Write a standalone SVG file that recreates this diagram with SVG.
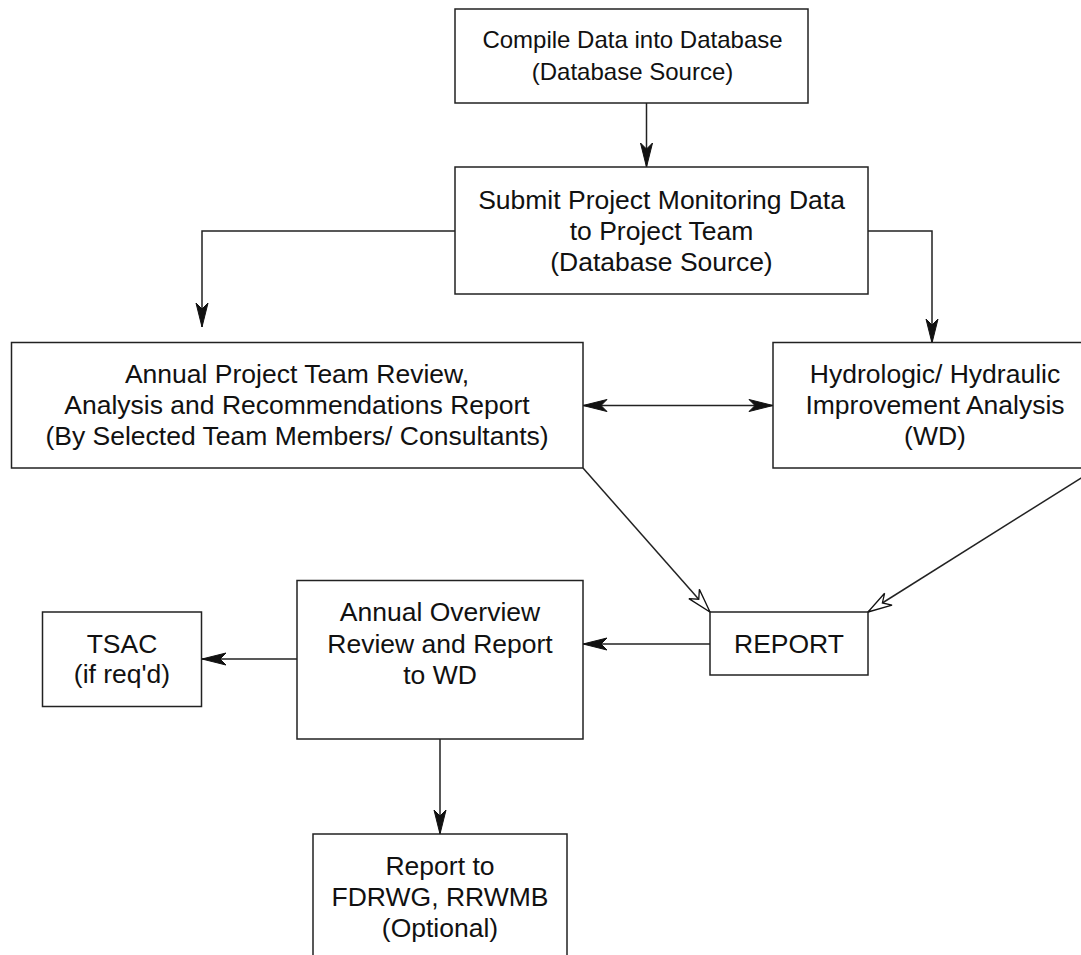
<svg xmlns="http://www.w3.org/2000/svg" width="1081" height="955" viewBox="0 0 1081 955">
<defs>
<style>
.box{fill:#fff;stroke:#222;stroke-width:1.5}
.lbl{font-family:"Liberation Sans",Arial,sans-serif;font-size:26.5px;fill:#111;text-anchor:middle}
.sm{font-size:24px}
.con{fill:none;stroke:#222;stroke-width:1.5}
</style>
<marker id="fa" viewBox="-26 -7 28 14" refX="0" refY="0" markerWidth="28" markerHeight="14" markerUnits="userSpaceOnUse" orient="auto-start-reverse">
<path d="M0,0 L-24,-6 L-18,0 L-24,6 Z" fill="#111" stroke="#111" stroke-width="1"/>
</marker>
<marker id="oa" viewBox="-26 -8 28 16" refX="0" refY="0" markerWidth="28" markerHeight="16" markerUnits="userSpaceOnUse" orient="auto">
<path d="M0,0 L-24,-7 L-17,0 L-24,7 Z" fill="#fff" stroke="#111" stroke-width="1.3"/>
</marker>
</defs>
<rect width="1081" height="955" fill="#fff"/>
<g id="connectors">
<path class="con" d="M646.5,103 V167" marker-end="url(#fa)"/>
<path class="con" d="M455,231 H202 V327" marker-end="url(#fa)"/>
<path class="con" d="M868,231 H932 V343" marker-end="url(#fa)"/>
<path class="con" d="M583,405.5 H773" marker-start="url(#fa)" marker-end="url(#fa)"/>
<path class="con" d="M583,468 L710,612" marker-end="url(#oa)"/>
<path class="con" d="M1097,468 L868,612" marker-end="url(#oa)"/>
<path class="con" d="M710,644 H583" marker-end="url(#fa)"/>
<path class="con" d="M297,659 H202" marker-end="url(#fa)"/>
<path class="con" d="M440,739 V834" marker-end="url(#fa)"/>
</g>
<g id="compile">
<rect class="box" x="455" y="9" width="353" height="94"/>
<text class="lbl sm" x="632.5" y="48">Compile Data into Database</text>
<text class="lbl sm" x="632.5" y="80">(Database Source)</text>
</g>
<g id="submit">
<rect class="box" x="455" y="167" width="413" height="127"/>
<text class="lbl" x="661.5" y="209">Submit Project Monitoring Data</text>
<text class="lbl" x="661.5" y="240">to Project Team</text>
<text class="lbl" x="661.5" y="271">(Database Source)</text>
</g>
<g id="annual-review">
<rect class="box" x="11.5" y="342.5" width="571.5" height="125.5"/>
<text class="lbl" x="297" y="383">Annual Project Team Review,</text>
<text class="lbl" x="297" y="414">Analysis and Recommendations Report</text>
<text class="lbl" x="297" y="445">(By Selected Team Members/ Consultants)</text>
</g>
<g id="hydrologic">
<rect class="box" x="773" y="342.5" width="324" height="125.5"/>
<text class="lbl" x="935" y="383">Hydrologic/ Hydraulic</text>
<text class="lbl" x="935" y="414">Improvement Analysis</text>
<text class="lbl" x="935" y="445">(WD)</text>
</g>
<g id="report">
<rect class="box" x="710" y="612" width="158" height="63"/>
<text class="lbl" x="789" y="652.5">REPORT</text>
</g>
<g id="overview">
<rect class="box" x="297" y="580.5" width="286" height="158.5"/>
<text class="lbl" x="440" y="621">Annual Overview</text>
<text class="lbl" x="440" y="652.5">Review and Report</text>
<text class="lbl" x="440" y="684">to WD</text>
</g>
<g id="tsac">
<rect class="box" x="42.5" y="612" width="159" height="94.5"/>
<text class="lbl" x="122" y="652.5">TSAC</text>
<text class="lbl" x="122" y="683">(if req'd)</text>
</g>
<g id="report-to">
<rect class="box" x="313" y="834" width="254" height="140"/>
<text class="lbl" x="440" y="875">Report to</text>
<text class="lbl" x="440" y="906">FDRWG, RRWMB</text>
<text class="lbl" x="440" y="937">(Optional)</text>
</g>
</svg>
